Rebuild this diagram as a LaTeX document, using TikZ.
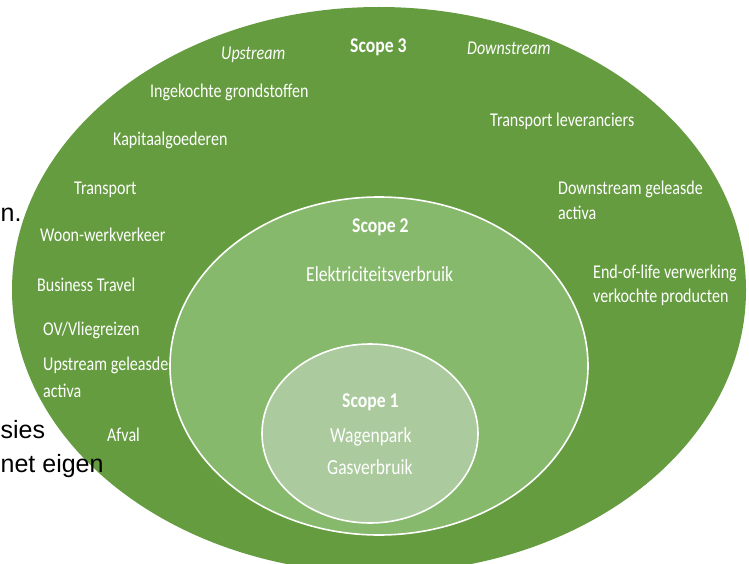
\documentclass[tikz,border=0pt]{standalone}
\usepackage{fontspec}
\setmainfont{Carlito}
\newfontfamily\arialfont{Liberation Sans}
\usepackage{graphicx}
\definecolor{scopethree}{HTML}{659C40}
\definecolor{scopetwo}{HTML}{87B96C}
\definecolor{scopeone}{HTML}{ABCA9D}
\newcommand{\condensed}[1]{\scalebox{0.823}[1]{#1}}
\newcommand{\condensedi}[1]{\scalebox{0.817}[1]{#1}}
\newcommand{\condensedb}[1]{\scalebox{0.84}[1]{#1}}
\tikzset{
  lbl/.style={anchor=base west, inner sep=0pt, text=white, font=\fontsize{19.5}{23}\selectfont},
  lblbig/.style={anchor=base west, inner sep=0pt, text=white, font=\fontsize{21.5}{25}\selectfont},
  lblbold/.style={anchor=base west, inner sep=0pt, text=white, font=\fontsize{21}{25}\selectfont\bfseries},
  bgtext/.style={anchor=base west, inner sep=0pt, text=black, font=\fontsize{25}{29}\selectfont\arialfont},
  ring/.style={draw=white, line width=1.6pt}
}
\begin{document}
\begin{tikzpicture}[x=1pt,y=-1pt]
\useasboundingbox (0,0) rectangle (749,564);
\fill[white] (0,0) rectangle (749,564);
\clip (0,0) rectangle (749,564);
% scope 3
\fill[scopethree] (379,290) ellipse [x radius=367pt, y radius=283pt];
% background page text fragments
\node[bgtext] (frag1) at (0.5,222) {n.};
\node[bgtext] (frag2) at (0.5,438) {sies};
\node[bgtext] (frag3) at (0.5,472) {net eigen};
% scope 2
\filldraw[ring, fill=scopetwo] (379,366) ellipse [x radius=209pt, y radius=169pt];
% scope 1
\filldraw[ring, fill=scopeone] (370,433.5) ellipse [x radius=108pt, y radius=89.5pt];
% scope 3 labels
\node[lblbold] (s3) at (350,53) {\condensedb{Scope 3}};
\node[lbl] (up) at (221,60) {\condensed{\itshape Upstream}};
\node[lbl] (down) at (467,55) {\condensed{\itshape Downstream}};
\node[lbl] (ingek) at (150,97.7) {\condensed{Ingekochte grondstoffen}};
\node[lbl] (kapit) at (113,145.7) {\condensed{Kapitaalgoederen}};
\node[lbl] (transp) at (74,195) {\condensed{Transport}};
\node[lbl] (woon) at (40,241.7) {\condensed{Woon-werkverkeer}};
\node[lbl] (busin) at (37,291) {\condensed{Business Travel}};
\node[lbl] (ov) at (43,335) {\condensed{OV/Vliegreizen}};
\node[lbl] (upgel) at (43,370) {\condensed{Upstream geleasde}};
\node[lbl] (upact) at (43,397) {\condensed{activa}};
\node[lbl] (afval) at (107,441) {\condensed{Afval}};
\node[lbl] (translev) at (490,127) {\condensed{Transport leveranciers}};
\node[lbl] (dngel) at (558,194) {\condensed{Downstream geleasde}};
\node[lbl] (dnact) at (558,219) {\condensed{activa}};
\node[lbl] (eol) at (593,278) {\condensed{End-of-life verwerking}};
\node[lbl] (verk) at (593,302) {\condensed{verkochte producten}};
% scope 2 labels
\node[lblbold] (s2) at (352,232) {\condensedb{Scope 2}};
\node[lblbig] (elek) at (306,281) {\condensedi{Elektriciteitsverbruik}};
% scope 1 labels
\node[lblbold] (s1) at (342,407) {\condensedb{Scope 1}};
\node[lblbig] (wagen) at (330,442) {\condensedi{Wagenpark}};
\node[lblbig] (gas) at (327,474) {\condensedi{Gasverbruik}};
\end{tikzpicture}
\end{document}
